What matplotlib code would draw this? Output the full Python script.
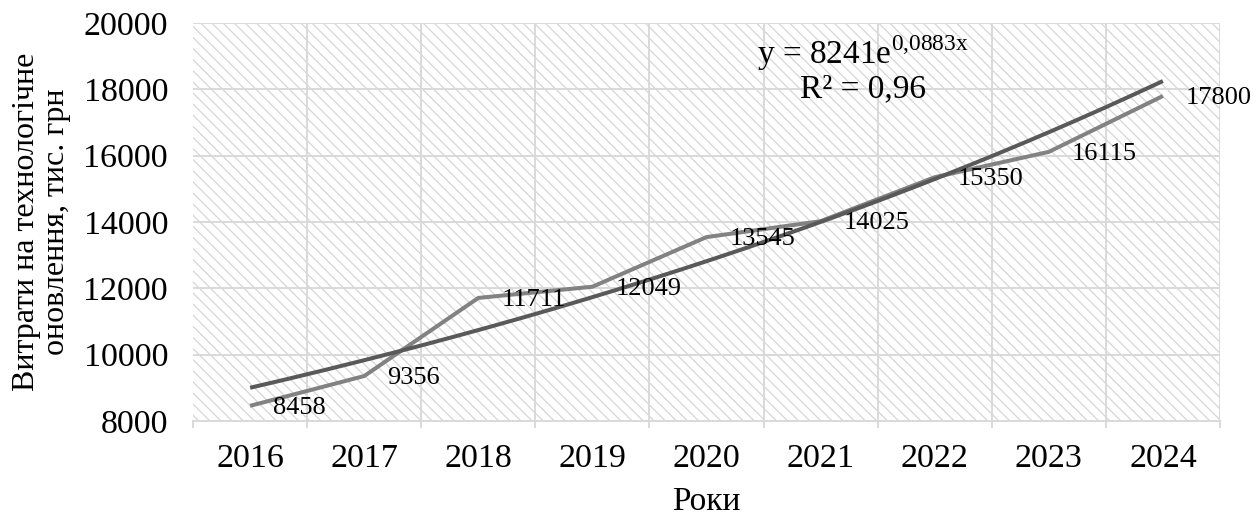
import numpy as np
import matplotlib
matplotlib.use("Agg")
import matplotlib.pyplot as plt

## data
years = ['2016', '2017', '2018', '2019', '2020', '2021', '2022', '2023', '2024']
costs = [8458, 9356, 11711, 12049, 13545, 14025, 15350, 16115, 17800]
eq_text = 'y = 8241e$^{\\mathrm{0{,}0883x}}$'
r2_text = 'R² = 0,96'

plt.rcParams['font.family'] = ['Liberation Serif', 'DejaVu Serif']
plt.rcParams['mathtext.fontset'] = 'custom'
plt.rcParams['mathtext.rm'] = 'Liberation Serif'
plt.rcParams['hatch.color'] = '#d6d6d6'
plt.rcParams['hatch.linewidth'] = 0.9

fig, ax = plt.subplots(figsize=(12.56, 5.15), dpi=100)
fig.subplots_adjust(left=0.1537, right=0.9713, top=0.9553, bottom=0.1825)

x = np.arange(len(years))

## hatched plot area
ax.patch.set_facecolor('white')
ax.add_patch(plt.Rectangle((0, 0), 1, 1, transform=ax.transAxes, facecolor='none',
                           edgecolor='#d6d6d6', hatch='\\\\\\', linewidth=0, zorder=0))

## exponential trendline, fitted like Excel does (x = 1..n)
k, b = np.polyfit(x + 1, np.log(costs), 1)
xs = np.linspace(0, len(years) - 1, 200)
trend = np.exp(b) * np.exp(k * (xs + 1))

ax.plot(x, costs, color='#828282', linewidth=2.9, zorder=3, solid_capstyle='butt')
ax.plot(xs, trend, color='#595959', linewidth=2.9, zorder=4, solid_capstyle='butt')

for xi, v in zip(x, costs):
    ax.annotate(str(v), (xi, v), xytext=(23, -2), textcoords='offset pixels',
                ha='left', va='center', fontsize=19, zorder=5)

ax.text(0.652, 0.925, eq_text, transform=ax.transAxes, ha='center', va='center', fontsize=24)
ax.text(0.652, 0.835, r2_text, transform=ax.transAxes, ha='center', va='center', fontsize=24)

ax.set_xlim(-0.5, len(years) - 0.5)
ax.set_ylim(8000, 20000)
ax.set_yticks(range(8000, 20001, 2000))
ax.set_xticks(x)
ax.set_xticklabels(years)
ax.set_xticks(np.arange(-0.5, len(years), 1), minor=True)

ax.grid(False)
for yv in range(10000, 20001, 2000):
    ax.axhline(yv, color='#d9d9d9', linewidth=1.4, zorder=1)
for xv in np.arange(0.5, len(years), 1):
    ax.axvline(xv, color='#d9d9d9', linewidth=1.4, zorder=1)

for s in ['top', 'left', 'right']:
    ax.spines[s].set_visible(False)
ax.spines['bottom'].set_color('#d9d9d9')
ax.spines['bottom'].set_linewidth(1.4)

ax.tick_params(axis='x', which='major', length=0, pad=16, labelsize=24.5)
ax.tick_params(axis='x', which='minor', length=5, width=1.4, color='#d9d9d9')
ax.tick_params(axis='y', length=0, pad=18, labelsize=24.5)

ax.set_xlabel('Роки', fontsize=24, labelpad=9)
ax.set_ylabel('Витрати на технологічне\nоновлення, тис. грн', fontsize=23, labelpad=9,
              linespacing=1.05)

plt.savefig('out.png', dpi=100)
plt.close()
